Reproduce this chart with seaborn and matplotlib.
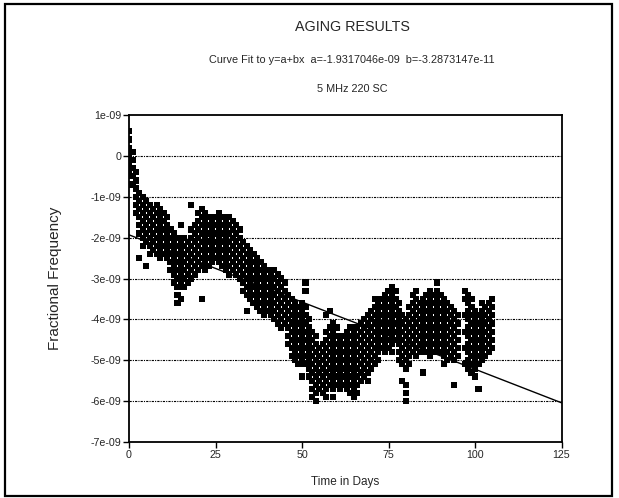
import matplotlib
matplotlib.use("Agg")
import matplotlib.pyplot as plt
import seaborn as sns
import pandas as pd
from matplotlib.patches import Rectangle

# ---- data (fractional frequency in units of 1e-9, one list per day) ----
days_a = list(range(0, 26))
vals_a = [
    [0.6, 0.4, 0.2, 0.0, -0.2, -0.4],
    [0.1, -0.1, -0.3, -0.5, -0.7],
    [-0.4, -0.6, -0.8, -1.0, -1.2, -1.4],
    [-0.9, -1.1, -1.3, -1.5, -1.7, -1.9, -2.5],
    [-1.0, -1.2, -1.4, -1.6, -1.8, -2.0, -2.2],
    [-1.1, -1.3, -1.5, -1.7, -1.9, -2.1, -2.7],
    [-1.2, -1.4, -1.6, -1.8, -2.0, -2.2, -2.4],
    [-1.3, -1.5, -1.7, -1.9, -2.1, -2.3],
    [-1.2, -1.4, -1.6, -1.8, -2.0, -2.2, -2.4],
    [-1.3, -1.5, -1.7, -1.9, -2.1, -2.3, -2.5],
    [-1.4, -1.6, -1.8, -2.0, -2.2, -2.4],
    [-1.5, -1.7, -1.9, -2.1, -2.3, -2.5],
    [-1.8, -2.0, -2.2, -2.4, -2.6, -2.8],
    [-1.9, -2.1, -2.3, -2.5, -2.7, -2.9, -3.1],
    [-2.0, -2.2, -2.4, -2.6, -2.8, -3.0, -3.2, -3.4, -3.6],
    [-1.7, -2.1, -2.3, -2.5, -2.7, -2.9, -3.1, -3.5],
    [-2.0, -2.2, -2.4, -2.6, -2.8, -3.0, -3.2],
    [-2.1, -2.3, -2.5, -2.7, -2.9, -3.1],
    [-1.2, -1.8, -2.0, -2.2, -2.4, -2.6, -2.8, -3.0],
    [-1.7, -1.9, -2.1, -2.3, -2.5, -2.7, -2.9],
    [-1.4, -1.6, -1.8, -2.0, -2.2, -2.4, -2.6, -2.8],
    [-1.3, -1.5, -1.7, -1.9, -2.1, -2.3, -2.5, -2.7, -3.5],
    [-1.4, -1.6, -1.8, -2.0, -2.2, -2.4, -2.6, -2.8],
    [-1.5, -1.7, -1.9, -2.1, -2.3, -2.5, -2.7],
    [-1.6, -1.8, -2.0, -2.2, -2.4, -2.6],
    [-1.5, -1.7, -1.9, -2.1, -2.3, -2.5],
]

days_b = list(range(26, 51))
vals_b = [
    [-1.4, -1.6, -1.8, -2.0, -2.2, -2.4, -2.6],
    [-1.5, -1.7, -1.9, -2.1, -2.3, -2.5, -2.7],
    [-1.6, -1.8, -2.0, -2.2, -2.4, -2.6, -2.8],
    [-1.5, -1.7, -1.9, -2.1, -2.3, -2.5, -2.7, -2.9],
    [-1.6, -1.8, -2.0, -2.2, -2.4, -2.6, -2.8],
    [-1.7, -1.9, -2.1, -2.3, -2.5, -2.7, -2.9],
    [-1.8, -2.0, -2.2, -2.4, -2.6, -2.8, -3.0],
    [-2.1, -2.3, -2.5, -2.7, -2.9, -3.1, -3.3],
    [-2.2, -2.4, -2.6, -2.8, -3.0, -3.2, -3.4, -3.8],
    [-2.3, -2.5, -2.7, -2.9, -3.1, -3.3, -3.5],
    [-2.4, -2.6, -2.8, -3.0, -3.2, -3.4, -3.6],
    [-2.5, -2.7, -2.9, -3.1, -3.3, -3.5, -3.7],
    [-2.6, -2.8, -3.0, -3.2, -3.4, -3.6, -3.8],
    [-2.7, -2.9, -3.1, -3.3, -3.5, -3.7, -3.9],
    [-2.8, -3.0, -3.2, -3.4, -3.6, -3.8],
    [-2.9, -3.1, -3.3, -3.5, -3.7, -3.9],
    [-2.8, -3.0, -3.2, -3.4, -3.6, -3.8, -4.0],
    [-2.9, -3.1, -3.3, -3.5, -3.7, -3.9, -4.1],
    [-3.0, -3.2, -3.4, -3.6, -3.8, -4.0, -4.2],
    [-3.1, -3.3, -3.5, -3.7, -3.9, -4.1],
    [-3.4, -3.6, -3.8, -4.0, -4.2, -4.4, -4.6],
    [-3.5, -3.7, -3.9, -4.1, -4.3, -4.5, -4.7, -4.9],
    [-3.6, -3.8, -4.0, -4.2, -4.4, -4.6, -4.8, -5.0],
    [-3.7, -3.9, -4.1, -4.3, -4.5, -4.7, -4.9, -5.1],
    [-3.6, -3.8, -4.0, -4.2, -4.4, -4.6, -4.8, -5.0, -5.4],
]

days_c = list(range(51, 78))
vals_c = [
    [-3.1, -3.3, -3.7, -3.9, -4.1, -4.3, -4.5, -4.7, -4.9, -5.1],
    [-4.0, -4.2, -4.4, -4.6, -4.8, -5.0, -5.2, -5.4],
    [-4.3, -4.5, -4.7, -4.9, -5.1, -5.3, -5.5, -5.7, -5.9],
    [-4.4, -4.6, -4.8, -5.0, -5.2, -5.4, -5.6, -5.8, -6.0],
    [-4.7, -4.9, -5.1, -5.3, -5.5, -5.7],
    [-4.6, -4.8, -5.0, -5.2, -5.4, -5.6, -5.8],
    [-3.9, -4.3, -4.5, -4.7, -4.9, -5.1, -5.3, -5.5, -5.7, -5.9],
    [-3.8, -4.2, -4.4, -4.6, -4.8, -5.0, -5.2, -5.4, -5.6],
    [-4.1, -4.3, -4.5, -4.7, -4.9, -5.1, -5.3, -5.5, -5.7, -5.9],
    [-4.2, -4.4, -4.6, -4.8, -5.0, -5.2, -5.4, -5.6],
    [-4.5, -4.7, -4.9, -5.1, -5.3, -5.5, -5.7],
    [-4.4, -4.6, -4.8, -5.0, -5.2, -5.4, -5.6],
    [-4.3, -4.5, -4.7, -4.9, -5.1, -5.3, -5.5, -5.7],
    [-4.2, -4.4, -4.6, -4.8, -5.0, -5.2, -5.4, -5.6, -5.8],
    [-4.3, -4.5, -4.7, -4.9, -5.1, -5.3, -5.5, -5.7, -5.9],
    [-4.2, -4.4, -4.6, -4.8, -5.0, -5.2, -5.4, -5.6, -5.8],
    [-4.1, -4.3, -4.5, -4.7, -4.9, -5.1, -5.3, -5.5],
    [-4.0, -4.2, -4.4, -4.6, -4.8, -5.0, -5.2, -5.4],
    [-3.9, -4.1, -4.3, -4.5, -4.7, -4.9, -5.1, -5.3, -5.5],
    [-3.8, -4.0, -4.2, -4.4, -4.6, -4.8, -5.0, -5.2],
    [-3.5, -3.7, -3.9, -4.1, -4.3, -4.5, -4.7, -4.9, -5.1],
    [-3.6, -3.8, -4.0, -4.2, -4.4, -4.6, -4.8, -5.0],
    [-3.5, -3.7, -3.9, -4.1, -4.3, -4.5, -4.7],
    [-3.4, -3.6, -3.8, -4.0, -4.2, -4.4, -4.6, -4.8],
    [-3.3, -3.5, -3.7, -3.9, -4.1, -4.3, -4.5, -4.7],
    [-3.2, -3.4, -3.6, -3.8, -4.0, -4.2, -4.4, -4.6, -4.8],
    [-3.3, -3.5, -3.7, -3.9, -4.1, -4.3, -4.5],
]

days_d = list(range(78, 106))
vals_d = [
    [-3.6, -3.8, -4.0, -4.2, -4.4, -4.6, -4.8, -5.0],
    [-3.9, -4.1, -4.3, -4.5, -4.7, -4.9, -5.1, -5.5],
    [-4.0, -4.2, -4.4, -4.6, -4.8, -5.0, -5.2, -5.6, -5.8, -6.0],
    [-3.7, -3.9, -4.1, -4.3, -4.5, -4.7, -4.9, -5.1],
    [-3.4, -3.6, -3.8, -4.0, -4.2, -4.4, -4.6, -4.8],
    [-3.3, -3.5, -3.7, -3.9, -4.1, -4.3, -4.5, -4.7, -4.9],
    [-3.6, -3.8, -4.0, -4.2, -4.4, -4.6, -4.8],
    [-3.5, -3.7, -3.9, -4.1, -4.3, -4.5, -4.7, -5.3],
    [-3.4, -3.6, -3.8, -4.0, -4.2, -4.4, -4.6, -4.8],
    [-3.3, -3.5, -3.7, -3.9, -4.1, -4.3, -4.5, -4.7, -4.9],
    [-3.4, -3.6, -3.8, -4.0, -4.2, -4.4, -4.6, -4.8],
    [-3.1, -3.3, -3.5, -3.7, -3.9, -4.1, -4.3, -4.5, -4.7],
    [-3.4, -3.6, -3.8, -4.0, -4.2, -4.4, -4.6, -4.8],
    [-3.5, -3.7, -3.9, -4.1, -4.3, -4.5, -4.7, -4.9, -5.1],
    [-3.6, -3.8, -4.0, -4.2, -4.4, -4.6, -4.8, -5.0],
    [-3.7, -3.9, -4.1, -4.3, -4.5, -4.7, -4.9],
    [-3.8, -4.0, -4.2, -4.4, -4.6, -4.8, -5.0, -5.6],
    [-3.9, -4.1, -4.3, -4.5, -4.7, -4.9],
    [],
    [-3.3, -3.5, -3.9, -4.3, -4.7, -5.1],
    [-3.4, -3.6, -3.8, -4.0, -4.2, -4.4, -4.6, -4.8, -5.0, -5.2],
    [-3.5, -3.7, -3.9, -4.1, -4.3, -4.5, -4.7, -4.9, -5.1, -5.3],
    [-3.8, -4.0, -4.2, -4.4, -4.6, -4.8, -5.0, -5.2, -5.4],
    [-3.9, -4.1, -4.3, -4.5, -4.7, -4.9, -5.1, -5.7],
    [-3.6, -3.8, -4.0, -4.2, -4.4, -4.6, -4.8, -5.0],
    [-3.7, -3.9, -4.1, -4.3, -4.5, -4.7, -4.9],
    [-3.6, -3.8, -4.0, -4.2, -4.4, -4.6, -4.8],
    [-3.5, -3.7, -3.9, -4.1, -4.3, -4.5, -4.7],
]

fit_a = -1.9317046   # x 1e-9
fit_b = -0.032873147  # x 1e-9 per day
fit_days = [0, 125]

x_ticks = [0, 25, 50, 75, 100, 125]
y_ticks = [1, 0, -1, -2, -3, -4, -5, -6, -7]
y_tick_labels = ["1e-09", "0", "-1e-09", "-2e-09", "-3e-09", "-4e-09",
                 "-5e-09", "-6e-09", "-7e-09"]

title = "AGING RESULTS"
subtitle = "Curve Fit to y=a+bx  a=-1.9317046e-09  b=-3.2873147e-11"
subtitle2 = "5 MHz 220 SC"

# ---- build table ----
rows = []
for ds, vs in ((days_a, vals_a), (days_b, vals_b), (days_c, vals_c), (days_d, vals_d)):
    for d, vlist in zip(ds, vs):
        for v in vlist:
            rows.append((d, v))
df = pd.DataFrame(rows, columns=["day", "freq"])
fit_df = pd.DataFrame({"day": fit_days,
                       "freq": [fit_a + fit_b * d for d in fit_days]})

sns.set_theme(style="white")
plt.rcParams["font.family"] = ["Liberation Sans", "DejaVu Sans"]

fig = plt.figure(figsize=(6.19, 4.98), dpi=100)
ax = fig.add_axes([129 / 619, 1 - 442 / 498, (561.5 - 129) / 619, (442 - 115) / 498])

for yv in y_ticks[1:-1]:
    ax.axhline(yv, color="black", lw=0.8, ls=(0, (2, 1, 1, 1)), zorder=1)

sns.scatterplot(data=df, x="day", y="freq", ax=ax, marker="s", s=20,
                color="black", edgecolor="none", linewidth=0, zorder=3)
sns.lineplot(data=fit_df, x="day", y="freq", ax=ax, color="black", lw=1.0, zorder=4)

ax.set_xlim(0, 125)
ax.set_ylim(-7, 1)
ax.set_xticks(x_ticks)
ax.set_xticklabels([str(t) for t in x_ticks])
ax.set_yticks(y_ticks)
ax.set_yticklabels(y_tick_labels)
ax.tick_params(axis="both", direction="out", length=4, width=1, color="black",
               labelsize=7.7, pad=1.5, left=True, bottom=True)
for sp in ax.spines.values():
    sp.set_color("black")
    sp.set_linewidth(1.3)
ax.grid(False)

ax.set_xlabel("Time in Days", fontsize=8.5)
ax.set_ylabel("Fractional Frequency", fontsize=11)
ax.xaxis.set_label_coords(0.5, -0.105)
ax.yaxis.set_label_coords(-0.155, 0.5)

cx = 352 / 619
fig.text(cx, 1 - 27 / 498, title, ha="center", va="center", fontsize=10.3)
fig.text(cx, 1 - 60 / 498, subtitle, ha="center", va="center", fontsize=7.8)
fig.text(cx, 1 - 89 / 498, subtitle2, ha="center", va="center", fontsize=7.8)

fig.patches.append(Rectangle((5 / 619, 1 - 496 / 498), 612 / 619 - 5 / 619, (496 - 4) / 498,
                             transform=fig.transFigure, fill=False,
                             edgecolor="black", lw=1.6))

fig.savefig("out.png", dpi=100)
